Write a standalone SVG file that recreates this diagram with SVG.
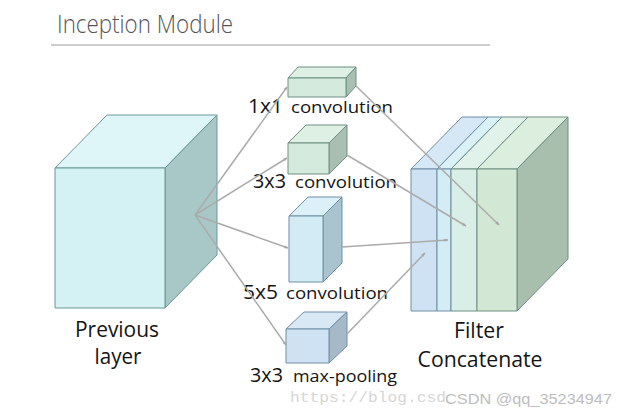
<svg xmlns="http://www.w3.org/2000/svg" width="620" height="418" viewBox="0 0 620 418">
<style>
  .lbl{font-family:"Open Sans","Noto Sans","Liberation Sans",sans-serif;fill:#141414}
  .big{font-size:20px}
  .mid{font-size:17px}
  .sm{font-size:16px}
  .cap{font-size:21px}
  .edge{stroke-width:1;stroke-linejoin:round}
  .tealS{stroke:#6a9898}
  .grnS{stroke:#6f8f84}
  .bluS{stroke:#6e8fa3}
  .conn{stroke:#ababab;stroke-width:1.5;fill:none;marker-end:url(#ah)}
</style>
<defs>
  <marker id="ah" viewBox="0 0 10 10" refX="9" refY="5" markerWidth="4" markerHeight="4" orient="auto" markerUnits="userSpaceOnUse">
    <path d="M0,1 L10,5 L0,9 z" fill="#a6a6a6"/>
  </marker>
</defs>
<rect width="620" height="418" fill="#ffffff"/>

<g id="title">
  <text x="57" y="33" font-family="'Open Sans','Noto Sans','Liberation Sans',sans-serif" font-weight="300" font-size="26" fill="#555555" textLength="176" lengthAdjust="spacingAndGlyphs">Inception Module</text>
  <line x1="51" y1="45" x2="490" y2="45" stroke="#9a9a9a" stroke-width="1"/>
</g>

<g id="previous-layer">
  <polygon class="edge tealS" points="55,168 107,115 217,115 165,168" fill="#def6f8"/>
  <polygon class="edge tealS" points="165,168 217,115 217,255 165,308" fill="#a8c8c7"/>
  <rect class="edge tealS" x="55" y="168" width="110" height="140" fill="#d4f1f3"/>
  <text class="lbl cap" x="117" y="337" text-anchor="middle" textLength="84" lengthAdjust="spacingAndGlyphs">Previous</text>
  <text class="lbl cap" x="118" y="364" text-anchor="middle" textLength="47" lengthAdjust="spacingAndGlyphs">layer</text>
</g>

<g id="conv1x1">
  <polygon class="edge grnS" points="288,78 298,67 356,67 346,78" fill="#deefe3"/>
  <polygon class="edge grnS" points="346,78 356,67 356,86 346,97" fill="#a9bfb2"/>
  <rect class="edge grnS" x="288" y="78" width="58" height="19" fill="#d4eadc"/>
  <text class="lbl big" x="248" y="113" textLength="35" lengthAdjust="spacingAndGlyphs">1x1</text>
  <text class="lbl mid" x="291" y="113" textLength="102" lengthAdjust="spacingAndGlyphs">convolution</text>
</g>

<g id="conv3x3">
  <polygon class="edge grnS" points="288,143 306,125 347,125 329,143" fill="#deefe3"/>
  <polygon class="edge grnS" points="329,143 347,125 347,156 329,174" fill="#a9bfb2"/>
  <rect class="edge grnS" x="288" y="143" width="41" height="31" fill="#d4eadc"/>
  <text class="lbl big" x="253" y="188" textLength="33" lengthAdjust="spacingAndGlyphs">3x3</text>
  <text class="lbl mid" x="295" y="188" textLength="102" lengthAdjust="spacingAndGlyphs">convolution</text>
</g>

<g id="conv5x5">
  <polygon class="edge bluS" points="289,216 308,197 342,197 323,216" fill="#dbf0f8"/>
  <polygon class="edge bluS" points="323,216 342,197 342,263 323,282" fill="#a9c4cf"/>
  <rect class="edge bluS" x="289" y="216" width="34" height="66" fill="#d2ebf5"/>
  <text class="lbl big" x="243" y="299" textLength="35" lengthAdjust="spacingAndGlyphs">5x5</text>
  <text class="lbl mid" x="286" y="299" textLength="102" lengthAdjust="spacingAndGlyphs">convolution</text>
</g>

<g id="maxpool3x3">
  <polygon class="edge bluS" points="286,329 304,312 347,312 329,329" fill="#d8e8f5"/>
  <polygon class="edge bluS" points="329,329 347,312 347,346 329,363" fill="#a6b9c9"/>
  <rect class="edge bluS" x="286" y="329" width="43" height="34" fill="#cfe2f3"/>
  <text class="lbl big" x="250" y="382" textLength="33" lengthAdjust="spacingAndGlyphs">3x3</text>
  <text class="lbl sm" x="293" y="382" textLength="104" lengthAdjust="spacingAndGlyphs">max-pooling</text>
</g>

<g id="filter-concatenate">
  <polygon class="edge bluS" points="411,169 462,117 488,117 437,169" fill="#d6e7f5"/>
  <polygon class="edge bluS" points="437,169 488,117 502,117 451,169" fill="#daf1f8"/>
  <polygon class="edge grnS" points="451,169 502,117 528,117 477,169" fill="#e0f2ea"/>
  <polygon class="edge grnS" points="477,169 528,117 568,117 517,169" fill="#dcefde"/>
  <polygon class="edge grnS" points="517,169 568,117 568,259 517,311" fill="#a9bfae"/>
  <rect class="edge bluS" x="411" y="169" width="26" height="142" fill="#cfe2f3"/>
  <rect class="edge bluS" x="437" y="169" width="14" height="142" fill="#d3ecf6"/>
  <rect class="edge grnS" x="451" y="169" width="26" height="142" fill="#d8eee6"/>
  <rect class="edge grnS" x="477" y="169" width="40" height="142" fill="#d2e8d4"/>
  <text class="lbl cap" x="479" y="338" text-anchor="middle" textLength="50" lengthAdjust="spacingAndGlyphs">Filter</text>
  <text class="lbl cap" x="480" y="367" text-anchor="middle" textLength="125" lengthAdjust="spacingAndGlyphs">Concatenate</text>
</g>

<g id="connectors">
  <line class="conn" x1="195" y1="215" x2="287" y2="87"/>
  <line class="conn" x1="195" y1="215" x2="287" y2="158"/>
  <line class="conn" x1="195" y1="215" x2="288" y2="248"/>
  <line class="conn" x1="195" y1="215" x2="286" y2="345"/>
  <line class="conn" x1="356" y1="86" x2="499" y2="225"/>
  <line class="conn" x1="347" y1="155" x2="466" y2="226"/>
  <line class="conn" x1="342" y1="247" x2="448" y2="240"/>
  <line class="conn" x1="347" y1="334" x2="425" y2="253"/>
</g>

<g id="watermark">
  <text x="290" y="402" font-family="'Liberation Mono','DejaVu Sans Mono',monospace" font-size="15" fill="#d6d6d6" textLength="156" lengthAdjust="spacingAndGlyphs">https://blog.csd</text>
  <text x="445" y="404" font-family="'Liberation Sans','Noto Sans CJK SC',sans-serif" font-size="15" fill="#bdbdbd" textLength="167" lengthAdjust="spacingAndGlyphs">CSDN @qq_35234947</text>
</g>
</svg>
